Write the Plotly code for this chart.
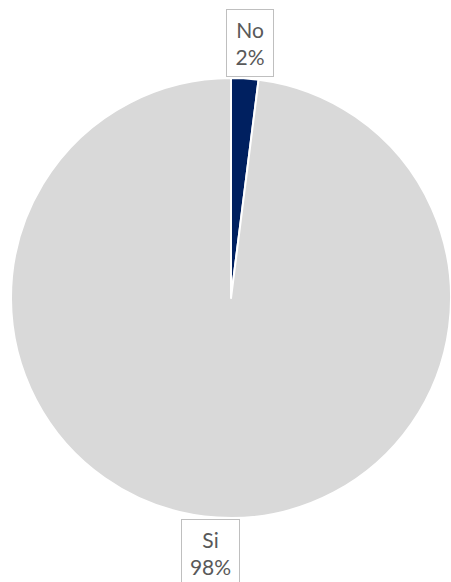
import plotly.graph_objects as go

# Survey answers and their shares (%)
labels = ["No", "Si"]
values = [2, 98]
colors = ["#002060", "#D9D9D9"]

W, H = 451, 582


def px_to_paper(x, y):
    return x / W, 1 - y / H


# Pie placement: centre (231, 298), radius 220 px
cx, cy, r = 231, 298, 220
x0, _ = px_to_paper(cx - r, 0)
x1, _ = px_to_paper(cx + r, 0)
_, y1 = px_to_paper(0, cy - r)
_, y0 = px_to_paper(0, cy + r)

fig = go.Figure(
    go.Pie(
        labels=labels,
        values=values,
        sort=False,
        direction="clockwise",
        rotation=0,
        marker=dict(colors=colors, line=dict(color="white", width=2)),
        textinfo="none",
        hoverinfo="label+percent",
        domain=dict(x=[x0, x1], y=[y0, y1]),
        showlegend=False,
    )
)

# Boxed data labels (category + percentage): centre position and box size in px
label_box = {"No": (250, 43, 42, 62), "Si": (210.5, 553, 53, 62)}
annotations = []
for lab, val in zip(labels, values):
    px, py, bw, bh = label_box[lab]
    ax, ay = px_to_paper(px, py)
    annotations.append(
        dict(
            text=f"{lab}<br>{val}%",
            x=ax,
            y=ay,
            xref="paper",
            yref="paper",
            xanchor="center",
            yanchor="middle",
            width=bw,
            height=bh,
            align="center",
            valign="middle",
            showarrow=False,
            font=dict(family="Lato, Carlito, sans-serif", size=21, color="#595959"),
            bgcolor="white",
            bordercolor="#BFBFBF",
            borderwidth=1,
            borderpad=2,
        )
    )

fig.update_layout(
    width=W,
    height=H,
    margin=dict(l=0, r=0, t=0, b=0),
    paper_bgcolor="white",
    plot_bgcolor="white",
    annotations=annotations,
)

fig.write_html("out.html")
